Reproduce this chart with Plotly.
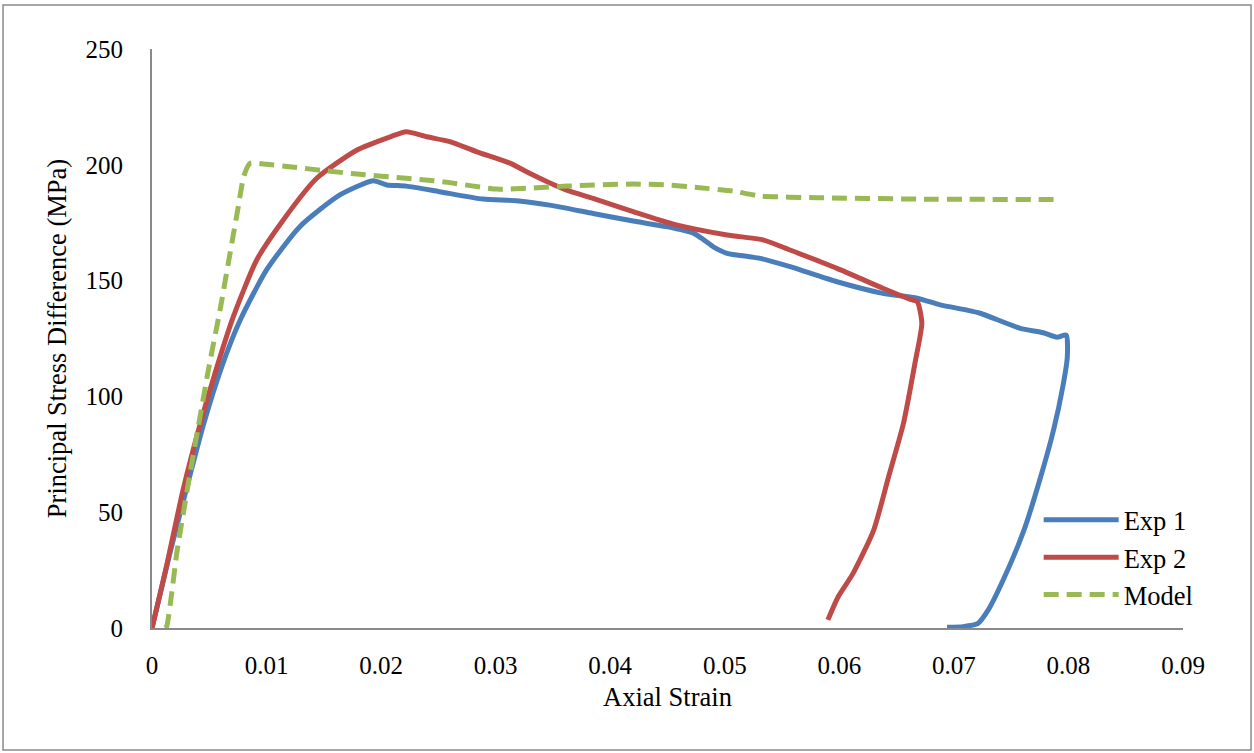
import plotly.graph_objects as go

exp1_strain = [0.0, 0.0015, 0.003, 0.0045, 0.0061, 0.0077, 0.0100, 0.0129, 0.0164, 0.0193,
               0.0205, 0.0222, 0.0251, 0.0289, 0.0318, 0.0347, 0.0385, 0.042, 0.0449, 0.0473,
               0.0482, 0.049, 0.0502, 0.0522, 0.0531, 0.0557, 0.0598, 0.0638, 0.0668, 0.0688,
               0.0711, 0.0723, 0.0758, 0.0778, 0.079, 0.0798, 0.0799, 0.0795, 0.0787, 0.0775,
               0.0761, 0.0743, 0.0730, 0.0721, 0.0708, 0.0694]
exp1_stress = [0.0, 31, 60, 88, 113, 133, 154.6, 173.3, 187, 193.1,
               191.3, 190.8, 188.4, 185.2, 184.5, 182.6, 179, 175.7, 173.3, 170.4,
               167.5, 164.6, 161.8, 160.3, 159.6, 156, 149.5, 144.5, 142.4, 139.5,
               137.3, 135.9, 129.4, 127.5, 125.5, 126.5, 117, 104, 85.5, 64,
               42, 20.7, 7.8, 2, 0.6, 0.3]

exp2_strain = [0.0, 0.0001, 0.00128, 0.00273, 0.0042, 0.0055, 0.0071, 0.00914, 0.01146, 0.01438,
               0.0179, 0.0208, 0.0222, 0.024, 0.026, 0.0283, 0.0313, 0.0327, 0.0345, 0.0362,
               0.0385, 0.042, 0.0455, 0.0502, 0.0534, 0.0557, 0.0598, 0.0638, 0.0662, 0.0668,
               0.0672, 0.0666, 0.0656, 0.0643, 0.063, 0.0612, 0.0599, 0.059]
exp2_stress = [0.0, 2, 27, 60, 88, 110, 134.4, 158.9, 176.2, 194.2,
               206.4, 212.1, 214.3, 212.1, 210, 205.7, 200.6, 197, 192.7, 189.1,
               185.5, 179.8, 174.4, 169.7, 167.5, 163.2, 155.3, 146.7, 141.9, 140.9,
               131.6, 114.3, 88.4, 65.3, 42.3, 23.6, 13.5, 3.5]

model_strain = [0.00113, 0.00128, 0.00172, 0.00215, 0.00273, 0.00332, 0.00404, 0.00492, 0.00594, 0.00666,
                0.00753, 0.008, 0.00855, 0.01, 0.012, 0.015, 0.0179, 0.0222, 0.0246, 0.026,
                0.0301, 0.0333, 0.0362, 0.042, 0.0449, 0.0478, 0.0507, 0.0531, 0.058, 0.0668,
                0.0787]
model_stress = [0.0, 0.6, 15, 32, 49.5, 66.8, 86.9, 111.4, 137.3, 157.5,
                181.9, 194.9, 200.6, 200.2, 199.2, 197.5, 196, 194.2, 193.1, 192.3,
                189.5, 190, 190.8, 191.7, 191.3, 190.1, 188.7, 186.5, 185.8, 185.2,
                185]

x_ticks = [0, 0.01, 0.02, 0.03, 0.04, 0.05, 0.06, 0.07, 0.08, 0.09]
x_tick_labels = ["0", "0.01", "0.02", "0.03", "0.04", "0.05", "0.06", "0.07", "0.08", "0.09"]
y_ticks = [0, 50, 100, 150, 200, 250]

FONT = "Liberation Serif, Times New Roman, serif"

fig = go.Figure()
fig.add_trace(go.Scatter(x=exp1_strain, y=exp1_stress, mode="lines", name="Exp 1",
                         line=dict(color="#4A7EBB", width=5, shape="spline", smoothing=0.6)))
fig.add_trace(go.Scatter(x=exp2_strain, y=exp2_stress, mode="lines", name="Exp 2",
                         line=dict(color="#BE4B48", width=5, shape="spline", smoothing=0.6)))
fig.add_trace(go.Scatter(x=model_strain, y=model_stress, mode="lines", name="Model",
                         line=dict(color="#98B954", width=5, dash="15px,8px",
                                   shape="spline", smoothing=0.5)))

fig.update_layout(
    width=1254, height=753,
    margin=dict(l=152, r=71, t=49, b=125),
    paper_bgcolor="white", plot_bgcolor="white",
    font=dict(family=FONT, size=25, color="black"),
    showlegend=True,
    legend=dict(x=0.86, y=0.228, xanchor="left", yanchor="top",
                bgcolor="rgba(0,0,0,0)", font=dict(size=26.5, family=FONT),
                itemwidth=75),
    shapes=[dict(type="rect", xref="paper", yref="paper",
                 x0=-0.1445, x1=1.066, y0=-0.2107, y1=1.076,
                 line=dict(color="#8A8A8A", width=1.5), layer="below")],
)
fig.update_xaxes(range=[0, 0.09], tickvals=x_ticks, ticktext=x_tick_labels,
                 showgrid=False, zeroline=False, showline=True, linecolor="#8A8A8A",
                 linewidth=2, ticks="", ticklabelstandoff=14,
                 title=dict(text="Axial Strain", font=dict(size=26.5, family=FONT), standoff=9))
fig.update_yaxes(range=[0, 250], tickvals=y_ticks,
                 showgrid=False, zeroline=False, showline=True, linecolor="#8A8A8A",
                 linewidth=2, ticks="", ticklabelstandoff=22,
                 title=dict(text="Principal Stress Difference (MPa)", font=dict(size=26.5, family=FONT), standoff=11))

fig.write_html("out.html")
